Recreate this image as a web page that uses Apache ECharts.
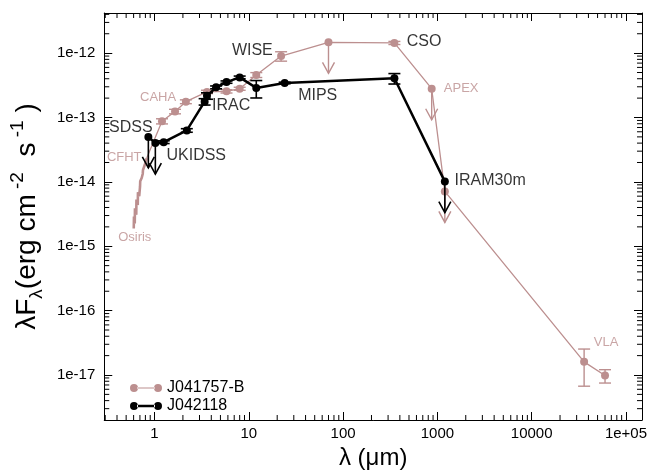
<!DOCTYPE html>
<html>
<head>
<meta charset="utf-8">
<script src="https://cdn.jsdelivr.net/npm/echarts@6/dist/echarts.min.js"></script>
<style>
html,body{margin:0;padding:0;background:#fff;}
#chart{width:658px;height:475px;}
</style>
</head>
<body>
<div id="chart"></div>
<script>
// axis ranges and tick labels
var xMin = 0.293, xMax = 148000;
var yMin = 2.0e-18, yMax = 4.2e-12;
var xTickVals = [1, 10, 100, 1000, 10000, 100000];
var xTickText = ['1', '10', '100', '1000', '10000', '1e+05'];
var yTickVals = [1e-17, 1e-16, 1e-15, 1e-14, 1e-13, 1e-12];
var yTickText = ['1e-17', '1e-16', '1e-15', '1e-14', '1e-13', '1e-12'];

// J041757-B : Osiris spectrum (no dots)
var osirisWave = [0.602, 0.605, 0.609, 0.617, 0.620, 0.627, 0.640, 0.643, 0.652, 0.664, 0.667, 0.677, 0.688, 0.702, 0.705, 0.716, 0.732, 0.750, 0.754, 0.768, 0.787, 0.807, 0.827];
var osirisFlux = [1.88e-15, 2.9e-15, 2.58e-15, 2.25e-15, 3.9e-15, 3.66e-15, 3.08e-15, 5.3e-15, 5.02e-15, 4.36e-15, 6.9e-15, 6.64e-15, 5.98e-15, 8.49e-15, 1.02e-14, 9.76e-15, 1.16e-14, 1.34e-14, 1.52e-14, 1.59e-14, 1.83e-14, 2.04e-14, 2.34e-14];

// J041757-B : photometry
var pinkWave  = [1.2, 1.65, 2.15, 3.6, 5.8, 8.0, 12, 22, 70, 350, 870, 1200, 36000, 60000];
var pinkFlux  = [8.75e-14, 1.24e-13, 1.76e-13, 2.5e-13, 2.55e-13, 2.8e-13, 4.58e-13, 9.0e-13, 1.47e-12, 1.44e-12, 2.8e-13, 7.1e-15, 1.6e-17, 9.8e-18];
var pinkErr   = [0.08e-13, 0.1e-13, 0.12e-13, 0.15e-13, 0.15e-13, 0.15e-13, 0.4e-13, 1.5e-13, 0, 0.8e-13, 0, 0, 0.93e-17, 0.23e-17];
var pinkUpper = [0, 0, 0, 0, 0, 0, 0, 0, 1, 0, 1, 1, 0, 0];

// J042118
var blackWave  = [0.86, 1.02, 1.25, 2.2, 3.4, 3.6, 4.5, 5.8, 8.0, 12, 24, 350, 1200];
var blackFlux  = [5.0e-14, 4.0e-14, 4.14e-14, 6.3e-14, 1.76e-13, 2.17e-13, 2.94e-13, 3.55e-13, 4.2e-13, 2.88e-13, 3.44e-13, 4.06e-13, 1.01e-14];
var blackErr   = [0, 0, 0.2e-14, 0.4e-14, 0.2e-13, 0.25e-13, 0.15e-13, 0.15e-13, 0.2e-13, 0.87e-13, 0.1e-13, 0.75e-13, 0];
var blackUpper = [1, 1, 0, 0, 0, 0, 0, 0, 0, 0, 0, 0, 1];

// instrument notes: text, wavelength, flux, which source
var notes = [
  ['WISE', 10.9, 1.1e-12, 'k'],
  ['CSO', 724, 1.51e-12, 'k'],
  ['MIPS', 53.8, 2.2e-13, 'k'],
  ['IRAC', 6.5, 1.55e-13, 'k'],
  ['SDSS', 0.56, 7.0e-14, 'k'],
  ['UKIDSS', 2.77, 2.6e-14, 'k'],
  ['IRAM30m', 3630, 1.05e-14, 'k'],
  ['CAHA', 1.09, 2.05e-13, 'p'],
  ['CFHT', 0.477, 2.42e-14, 'p'],
  ['Osiris', 0.617, 1.37e-15, 'p'],
  ['APEX', 1786, 2.8e-13, 'p'],
  ['VLA', 61500, 3.25e-17, 'p']
];

var PINK = '#bc8f8f';
var FONT = '"Liberation Sans", Arial, Helvetica, sans-serif';

function tickFormatter(vals, texts) {
  return function (v) {
    var e = Math.log10(v);
    for (var i = 0; i < vals.length; i++) {
      if (Math.abs(Math.log10(vals[i]) - e) < 1e-6) return texts[i];
    }
    return '';
  };
}

// minor ticks 2..9 in each decade
function minors(lo, hi) {
  var out = [];
  for (var k = Math.floor(Math.log10(lo)) - 1; k <= Math.ceil(Math.log10(hi)); k++) {
    for (var m = 2; m <= 9; m++) {
      var v = m * Math.pow(10, k);
      if (v > lo && v < hi) out.push(v);
    }
  }
  return out;
}

function seg(x1, y1, x2, y2, color, w) {
  return { type: 'line', shape: { x1: x1, y1: y1, x2: x2, y2: y2 }, style: { stroke: color, lineWidth: w } };
}

function errRender(color, w, cap) {
  return function (params, api) {
    var wv = api.value(0), f = api.value(1), e = api.value(2), up = api.value(3);
    var c = api.coord([wv, f]);
    var kids = [];
    if (e > 0) {
      var hi = api.coord([wv, f + e]);
      var lo = api.coord([wv, f - e]);
      kids.push(seg(c[0], hi[1], c[0], lo[1], color, w));
      kids.push(seg(c[0] - cap, hi[1], c[0] + cap, hi[1], color, w));
      kids.push(seg(c[0] - cap, lo[1], c[0] + cap, lo[1], color, w));
    }
    if (up) {
      var tip = c[1] + 31;
      kids.push(seg(c[0], c[1], c[0], tip, color, w));
      kids.push({ type: 'polyline', shape: { points: [[c[0] - 6, tip - 11], [c[0], tip], [c[0] + 6, tip - 11]] }, style: { stroke: color, lineWidth: w, fill: null } });
    }
    return { type: 'group', children: kids };
  };
}

function zipErr(wave, flux, err, upper) {
  return wave.map(function (w, i) { return [w, flux[i], err[i], upper[i]]; });
}

var nSpec = osirisWave.length;
var specLine = osirisWave.map(function (w, i) { return [w, osirisFlux[i]]; });
// photometry line starts where the spectrum ends
var pinkLine = [[osirisWave[nSpec - 1], osirisFlux[nSpec - 1]]]
  .concat(pinkWave.map(function (w, i) { return [w, pinkFlux[i]]; }));
var blackLine = blackWave.map(function (w, i) { return [w, blackFlux[i]]; });

var pinkIcon = 'path://M0,4A4,4,0,1,0,8,4A4,4,0,1,0,0,4ZM7,3.4H25V4.6H7ZM24,4A4,4,0,1,0,32,4A4,4,0,1,0,24,4Z';
var blackIcon = 'path://M0,4A4,4,0,1,0,8,4A4,4,0,1,0,0,4ZM7,2.7H25V5.3H7ZM24,4A4,4,0,1,0,32,4A4,4,0,1,0,24,4Z';

var chart = echarts.init(document.getElementById('chart'), null, { renderer: 'canvas' });

var axisCommon = {
  type: 'log', logBase: 10,
  axisLine: { show: true, onZero: false, lineStyle: { color: '#000', width: 1 } },
  axisTick: { show: true, inside: true, length: 8, lineStyle: { color: '#000', width: 1 } },
  splitLine: { show: false },
  minorTick: { show: false },
  minorSplitLine: { show: false }
};

var option = {
  animation: false,
  backgroundColor: '#fff',
  textStyle: { fontFamily: FONT },
  grid: { left: 104, right: 16, top: 13, bottom: 46, containLabel: false },
  legend: {
    orient: 'vertical', left: 125, top: 375,
    itemWidth: 32, itemHeight: 8, itemGap: 2,
    textStyle: { fontSize: 16, color: '#000', fontFamily: FONT },
    data: [{ name: 'J041757-B', icon: pinkIcon }, { name: 'J042118', icon: blackIcon }]
  },
  xAxis: [
    Object.assign({}, axisCommon, {
      position: 'bottom', min: xMin, max: xMax,
      axisLabel: { formatter: tickFormatter(xTickVals, xTickText), fontSize: 15, color: '#000', margin: 6, showMinLabel: false, showMaxLabel: false, fontFamily: FONT },
      name: 'λ (μm)', nameLocation: 'middle', nameGap: 26,
      nameTextStyle: { fontSize: 24, color: '#000', fontFamily: FONT }
    }),
    Object.assign({}, axisCommon, {
      position: 'top', min: xMin, max: xMax,
      axisLabel: { show: false }
    })
  ],
  yAxis: [
    Object.assign({}, axisCommon, {
      position: 'left', min: yMin, max: yMax,
      axisLabel: { formatter: tickFormatter(yTickVals, yTickText), fontSize: 15, color: '#000', margin: 9, showMinLabel: false, showMaxLabel: false, fontFamily: FONT },
      name: '{m|λF}{s|λ}{m|(erg cm}{p| -2}{m|  s}{p| -1}{m| )}',
      nameLocation: 'middle', nameRotate: 90, nameGap: 50,
      nameTextStyle: {
        color: '#000', fontFamily: FONT,
        rich: {
          m: { fontSize: 28, lineHeight: 38, verticalAlign: 'middle', color: '#000', fontFamily: FONT },
          s: { fontSize: 19, lineHeight: 38, verticalAlign: 'bottom', color: '#000', fontFamily: FONT },
          p: { fontSize: 19, lineHeight: 38, verticalAlign: 'top', color: '#000', fontFamily: FONT }
        }
      }
    }),
    Object.assign({}, axisCommon, {
      position: 'right', min: yMin, max: yMax,
      axisLabel: { show: false }
    })
  ],
  series: [
    {
      name: 'x-minor', type: 'custom', silent: true, xAxisIndex: 0, yAxisIndex: 0,
      data: minors(xMin, xMax).map(function (v) { return [v, yMin]; }),
      renderItem: function (params, api) {
        var cs = params.coordSys;
        var px = api.coord([api.value(0), yMin])[0];
        return { type: 'group', children: [
          seg(px, cs.y + cs.height, px, cs.y + cs.height - 5, '#000', 1),
          seg(px, cs.y, px, cs.y + 5, '#000', 1)
        ] };
      }
    },
    {
      name: 'y-minor', type: 'custom', silent: true, xAxisIndex: 0, yAxisIndex: 0,
      data: minors(yMin, yMax).map(function (v) { return [xMin, v]; }),
      renderItem: function (params, api) {
        var cs = params.coordSys;
        var py = api.coord([xMin, api.value(1)])[1];
        return { type: 'group', children: [
          seg(cs.x, py, cs.x + 5, py, '#000', 1),
          seg(cs.x + cs.width, py, cs.x + cs.width - 5, py, '#000', 1)
        ] };
      }
    },
    {
      name: 'J041757-B', type: 'line', data: specLine,
      color: PINK, showSymbol: false, symbol: 'none',
      lineStyle: { color: PINK, width: 2.6 },
      emphasis: { disabled: true }, z: 2
    },
    {
      name: 'J041757-B', type: 'line', data: pinkLine,
      color: PINK,
      symbol: 'circle',
      symbolSize: function (v, p) { return p.dataIndex === 0 ? 0 : 8; },
      lineStyle: { color: PINK, width: 1.3 },
      itemStyle: { color: PINK },
      emphasis: { disabled: true }, z: 2
    },
    {
      name: 'pink-err', type: 'custom', silent: true,
      data: zipErr(pinkWave, pinkFlux, pinkErr, pinkUpper),
      renderItem: errRender(PINK, 1.4, 6), z: 2
    },
    {
      name: 'J042118', type: 'line', data: blackLine,
      color: '#000',
      symbol: 'circle', symbolSize: 8,
      lineStyle: { color: '#000', width: 2.5 },
      itemStyle: { color: '#000' },
      emphasis: { disabled: true }, z: 3
    },
    {
      name: 'black-err', type: 'custom', silent: true,
      data: zipErr(blackWave, blackFlux, blackErr, blackUpper),
      renderItem: errRender('#000', 1.6, 6), z: 3
    },
    {
      name: 'notes', type: 'scatter', silent: true, symbolSize: 1,
      itemStyle: { color: 'rgba(0,0,0,0)' },
      data: notes.map(function (n) {
        var black = n[3] === 'k';
        return {
          value: [n[1], n[2]],
          label: { show: true, position: 'inside', formatter: n[0],
            color: black ? '#000' : PINK, fontSize: black ? 16 : 13, fontFamily: FONT }
        };
      }), z: 4
    }
  ]
};

chart.setOption(option);
</script>
</body>
</html>
